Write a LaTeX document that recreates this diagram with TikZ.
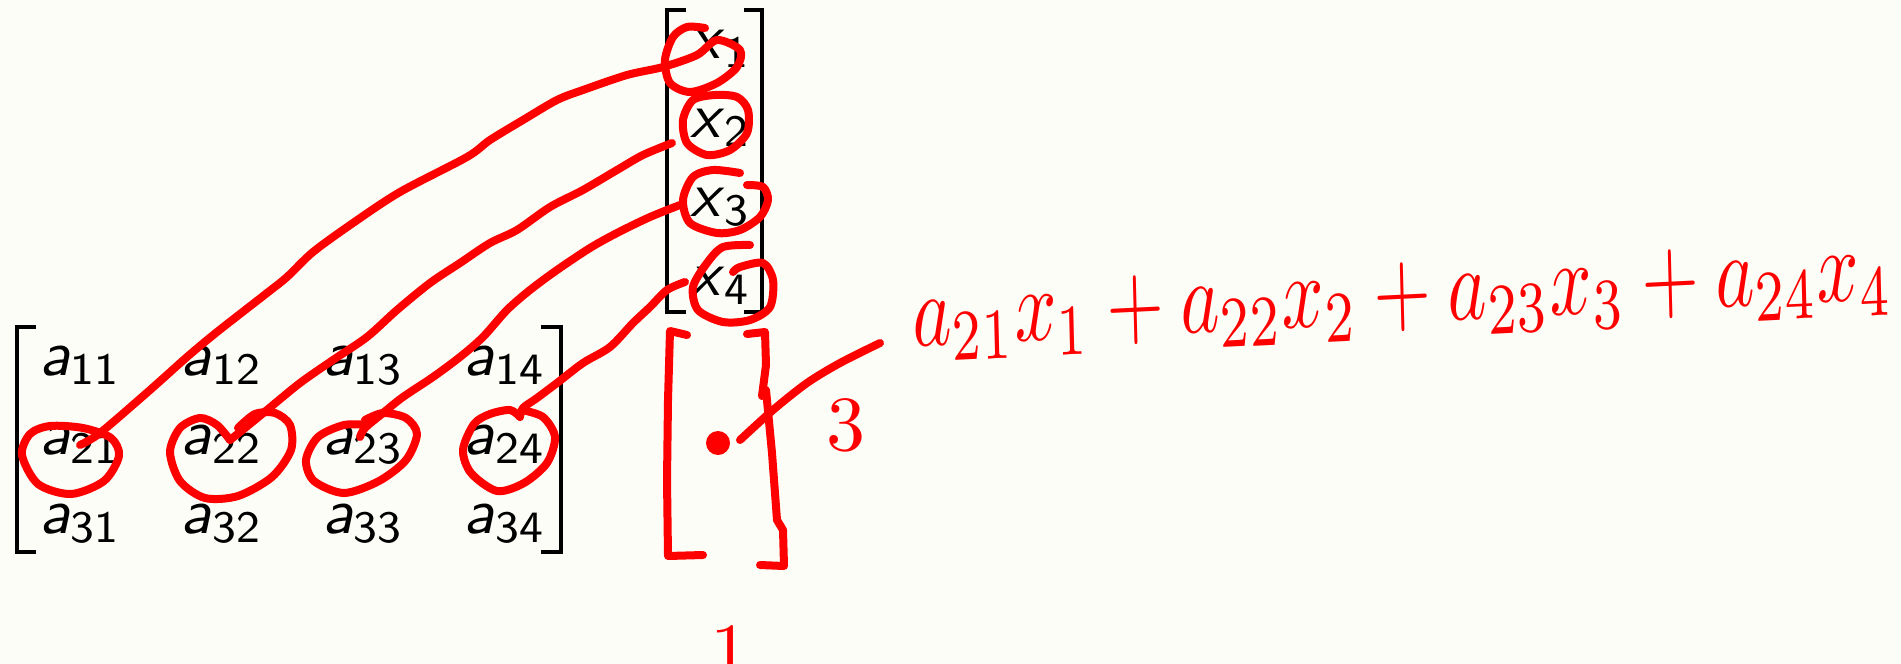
\documentclass[tikz,border=0pt]{standalone}
\usepackage{amsmath}
\usepackage{tikz}

\definecolor{paper}{RGB}{253,253,247}
\definecolor{ink}{RGB}{255,0,0}
\tikzset{
  entry/.style={anchor=base west,inner sep=0pt,scale=6.4,transform shape},
  brack/.style={line width=4pt},
  pen/.style={ink,line width=8pt,line cap=round,line join=round},
  hand/.style={ink,inner sep=0pt,scale=7.8,transform shape}
}

\begin{document}
\begin{tikzpicture}[x=1pt,y=-1pt]
        \useasboundingbox (0,0) rectangle (1901,664);
        \fill[paper] (0,0) rectangle (1901,664);
        % the matrix A and the vector x
        \foreach \r in {1,2,3}
          \foreach \c in {1,...,4}
            \node[entry] (a\r\c) at ({38+141.5*(\c-1)},{375+79*(\r-1)}) {$\textsf{\textit{a}}_{\textsf{\r\c}}$};
        \foreach \i in {1,...,4}
          \node[entry] (x\i) at (689,{58+79*(\i-1)}) {$\textsf{\textit{x}}_{\textsf{\i}}$};
        \draw[brack] (36,327) -- (17,327) -- (17,552) -- (36,552);
        \draw[brack] (541,327) -- (561,327) -- (561,552) -- (541,552);
        \draw[brack] (686,10) -- (667,10) -- (667,312) -- (686,312);
        \draw[brack] (744,10) -- (762,10) -- (762,312) -- (744,312);
        % red pen
        \draw[pen] plot[smooth cycle] coordinates {(50,426) (83,428) (111,438) (119,456) (104,481) (71,494) (38,484) (22,455) (30,434)};
        \draw[pen] plot[smooth] coordinates {(80,445) (100,433) (150,390) (187,357) (217,332) (267,293) (287,277) (313,252) (353,223) (400,192) (467,157) (490,140) (523,120) (557,100) (583,90) (627,75) (663,67) (697,55) (717,40) (740,50) (737,67) (717,83) (690,92) (670,83) (665,60) (673,37) (687,27) (705,28)};
        \draw[pen] plot[smooth] coordinates {(238,428) (255,414) (275,413) (290,425) (291,450) (272,477) (238,496) (205,498) (180,481) (170,452) (180,428) (200,418) (217,425) (230,440)};
        \draw[pen] plot[smooth] coordinates {(230,440) (245,428) (267,410) (300,383) (333,360) (367,337) (397,310) (430,283) (460,263) (490,243) (517,230) (550,207) (583,190) (617,170) (643,155) (672,143)};
        \draw[pen] plot[smooth] coordinates {(680,205) (650,217) (617,233) (590,248) (557,270) (530,290) (507,310) (483,337) (460,357) (433,377) (403,397) (383,413) (365,428) (360,437)};
        \draw[pen] plot[smooth] coordinates {(365,420) (383,413) (406,418) (417,434) (406,460) (379,481) (344,493) (314,481) (306,460) (318,437) (344,425) (368,425)};
        \draw[pen] plot[smooth] coordinates {(685,282) (667,290) (650,307) (633,323) (610,347) (583,363) (557,383) (537,398) (523,408) (520,417)};
        \draw[pen] plot[smooth] coordinates {(520,417) (510,410) (490,414) (474,424) (463,450) (471,473) (497,491) (524,483) (547,463) (555,437) (543,417) (522,410)};
        \draw[pen] plot[smooth cycle] coordinates {(737,97) (748,110) (747,133) (730,150) (707,155) (687,143) (683,120) (693,100) (715,95)};
        \draw[pen] plot[smooth] coordinates {(740,173) (713,170) (693,177) (683,200) (690,223) (717,233) (740,230) (760,217) (768,200) (763,187) (747,185)};
        \draw[pen] plot[smooth] coordinates {(750,245) (723,247) (707,263) (693,287) (698,310) (723,322) (750,320) (770,307) (773,280) (763,263) (740,267) (733,272)};
        % the product
        \draw[pen] (687,335) -- (670,331) -- (668,400) -- (667,480) -- (668,556) -- (703,555);
        \draw[pen] (747,334) -- (765,332) -- (766,365) -- (762,396);
        \draw[pen] (766,390) -- (772,453) -- (777,520) -- (783,530) -- (784,566) -- (760,565);
        \node[circle,fill=ink,inner sep=0pt,minimum size=24pt] (dot) at (718,443) {};
        \draw[pen] plot[smooth] coordinates {(740,440) (773,410) (807,383) (840,363) (880,343)};
        \node[hand] (three) at (846,425) {3};
        \node[hand] (one) at (730,652) {1};
        \node[hand,scale=7.4/7.8,yscale=1.4,anchor=base west,rotate=2] (sum) at (912,347) {$a_{21}x_1+a_{22}x_2+a_{23}x_3+a_{24}x_4$};
    \end{tikzpicture}
\end{document}
